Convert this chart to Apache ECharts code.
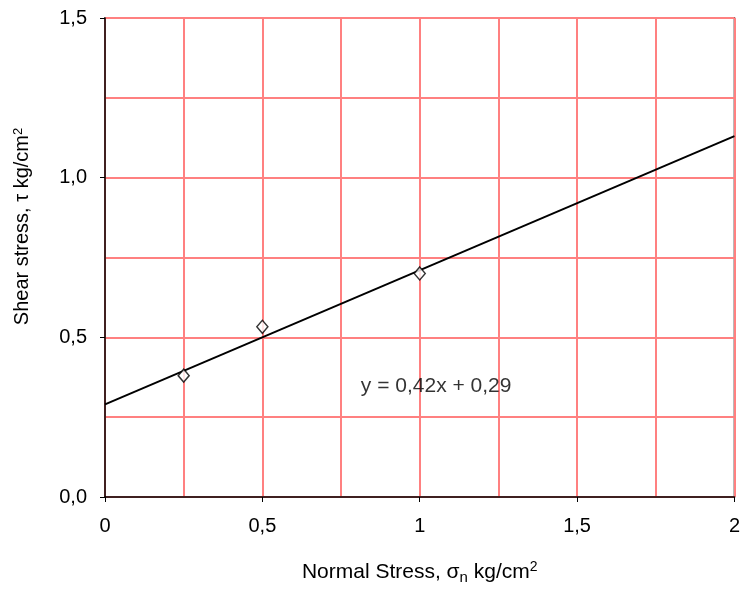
<!DOCTYPE html>
<html><head><meta charset="utf-8">
<script src="https://cdn.jsdelivr.net/npm/echarts@6/dist/echarts.min.js"></script>
<style>html,body{margin:0;padding:0;background:#fff}#c{width:743px;height:590px}</style>
</head><body><div id="c"></div>
<script>
const normalStress = [0.25, 0.5, 1.0];
const shearStress = [0.38, 0.533, 0.70];
const trendX = [0, 2];
const trendY = [0.29, 1.13];
const equationText = 'y = 0,42x + 0,29';
const equationPos = [0.813, 0.347];

const fmt = v => String(v).replace('.', ',');
const chart = echarts.init(document.getElementById('c'));
const font = '"Liberation Sans", Arial, sans-serif';
chart.setOption({
  animation: false,
  grid: {left: 105, top: 18, right: 6, bottom: 89, show: true, borderColor: '#222', borderWidth: 1.5},
  xAxis: {
    type: 'value', min: 0, max: 2, interval: 0.5,
    name: '{t|Normal Stress, σ}{sub|n}{t| kg/cm}{sup|2}', nameLocation: 'middle', nameGap: 63,
    nameTextStyle: {rich: {
      t: {fontFamily: font, fontSize: 21, color: '#000'},
      sub: {fontFamily: font, fontSize: 15, color: '#000', verticalAlign: 'bottom', padding: [10,0,0,0]},
      sup: {fontFamily: font, fontSize: 14, color: '#000', verticalAlign: 'top', padding: [0,0,8,0]}
    }},
    axisLine: {show: true, onZero: false, lineStyle: {color: '#000', width: 1.5}},
    axisTick: {show: true, inside: false, length: 5, lineStyle: {color: '#000'}},
    axisLabel: {formatter: fmt, fontFamily: font, fontSize: 20, color: '#000', margin: 19},
    splitLine: {show: true, lineStyle: {color: '#FF8080', width: 2}},
    minorTick: {show: false, splitNumber: 2},
    minorSplitLine: {show: true, lineStyle: {color: '#FF8080', width: 2}}
  },
  yAxis: {
    type: 'value', min: 0, max: 1.5, interval: 0.5,
    name: '{t|Shear stress, τ kg/cm}{sup|2}', nameLocation: 'middle', nameGap: 72,
    nameTextStyle: {padding: [0, 0, 0, 62], rich: {
      t: {fontFamily: font, fontSize: 20, color: '#000'},
      sup: {fontFamily: font, fontSize: 13, color: '#000', verticalAlign: 'top', padding: [0,0,8,0]}
    }},
    axisLine: {show: true, onZero: false, lineStyle: {color: '#000', width: 1.5}},
    axisTick: {show: true, inside: false, length: 5, lineStyle: {color: '#000'}},
    axisLabel: {formatter: v => v.toFixed(1).replace('.', ','), fontFamily: font, fontSize: 20, color: '#000', margin: 18},
    splitLine: {show: true, lineStyle: {color: '#FF8080', width: 2}},
    minorTick: {show: false, splitNumber: 2},
    minorSplitLine: {show: true, lineStyle: {color: '#FF8080', width: 2}}
  },
  series: [
    {type: 'line', data: trendX.map((x, i) => [x, trendY[i]]), symbol: 'none',
     lineStyle: {color: '#000', width: 2}, z: 3},
    {type: 'scatter', data: normalStress.map((x, i) => [x, shearStress[i]]), symbol: 'diamond', symbolSize: [11, 13],
     itemStyle: {color: '#fff', borderColor: '#000', borderWidth: 1.5}, z: 4},
    {type: 'scatter', data: [equationPos], symbolSize: 0, silent: true,
     label: {show: true, position: 'right', distance: 0, formatter: equationText, fontFamily: font, fontSize: 21, color: '#000'}}
  ]
});
</script></body></html>
